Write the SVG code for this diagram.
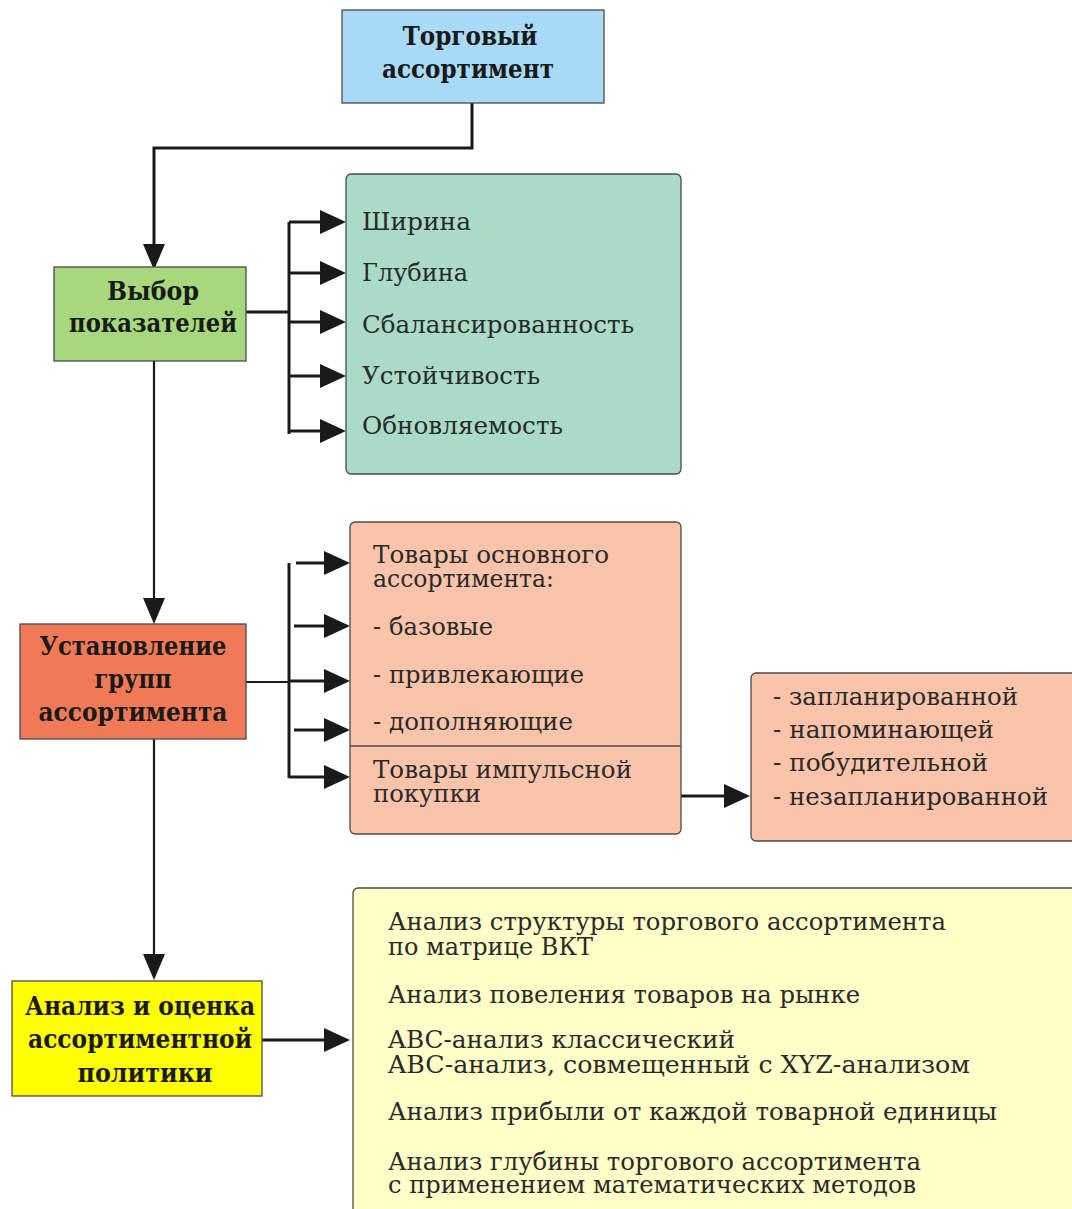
<svg xmlns="http://www.w3.org/2000/svg" width="1072" height="1209" viewBox="0 0 1072 1209">
<defs>
<style>
.box{stroke:#4a4a4a;stroke-width:1.3}
.t{font-family:"DejaVu Serif","Liberation Serif",serif;font-size:25px;fill:#2a2a2a}
.b{font-family:"DejaVu Serif","Liberation Serif",serif;font-size:26px;font-weight:bold;fill:#1a1a1a;text-anchor:middle}
.ln{fill:none;stroke:#1a1a1a;stroke-width:3}
.thin{fill:none;stroke:#1a1a1a;stroke-width:2.2}
.ar{fill:#1a1a1a}
</style>
</defs>
<rect width="1072" height="1209" fill="#ffffff"/>

<g id="connectors">
<polyline class="ln" points="472,103 472,148 154,148 154,250"/>
<path class="ar" d="M143,244 L165,244 L154,270 Z"/>
<line class="thin" x1="154" y1="361" x2="154" y2="600"/>
<path class="ar" d="M143,598 L165,598 L154,624 Z"/>
<line class="thin" x1="154" y1="739" x2="154" y2="956"/>
<path class="ar" d="M143,954 L165,954 L154,980 Z"/>

<polyline class="ln" points="246,312 289,312"/>
<line class="ln" x1="289" y1="222" x2="289" y2="434"/>
<g>
<line class="ln" x1="289" y1="222" x2="325" y2="222"/><path class="ar" d="M320,210 L346,222 L320,234 Z"/>
<line class="ln" x1="289" y1="273" x2="325" y2="273"/><path class="ar" d="M320,261 L346,273 L320,285 Z"/>
<line class="ln" x1="289" y1="322" x2="325" y2="322"/><path class="ar" d="M320,310 L346,322 L320,334 Z"/>
<line class="ln" x1="289" y1="376" x2="325" y2="376"/><path class="ar" d="M320,364 L346,376 L320,388 Z"/>
<line class="ln" x1="289" y1="431" x2="325" y2="431"/><path class="ar" d="M320,419 L346,431 L320,443 Z"/>
</g>

<line class="thin" x1="246" y1="682" x2="289" y2="682"/>
<line class="ln" x1="289" y1="563" x2="289" y2="778"/>
<g>
<line class="ln" x1="296" y1="563" x2="328" y2="563"/><path class="ar" d="M324,551 L350,563 L324,575 Z"/>
<line class="ln" x1="294" y1="626" x2="328" y2="626"/><path class="ar" d="M324,614 L350,626 L324,638 Z"/>
<line class="ln" x1="289" y1="681" x2="328" y2="681"/><path class="ar" d="M324,669 L350,681 L324,693 Z"/>
<line class="ln" x1="294" y1="730" x2="328" y2="730"/><path class="ar" d="M324,718 L350,730 L324,742 Z"/>
<line class="ln" x1="289" y1="777" x2="328" y2="777"/><path class="ar" d="M324,765 L350,777 L324,789 Z"/>
</g>

<line class="ln" x1="681" y1="796" x2="728" y2="796"/>
<path class="ar" d="M724,784 L750,796 L724,808 Z"/>

<line class="ln" x1="262" y1="1040" x2="328" y2="1040"/>
<path class="ar" d="M324,1028 L350,1040 L324,1052 Z"/>
</g>

<g id="n-torg">
<rect class="box" x="342" y="10" width="262" height="93" fill="#a9daf7"/>
<text class="b" x="470" y="45" textLength="135" lengthAdjust="spacingAndGlyphs">Торговый</text>
<text class="b" x="468" y="78" textLength="172" lengthAdjust="spacingAndGlyphs">ассортимент</text>
</g>

<g id="n-vybor">
<rect class="box" x="54" y="267" width="192" height="94" fill="#a7d87b"/>
<text class="b" x="153" y="300" textLength="92" lengthAdjust="spacingAndGlyphs">Выбор</text>
<text class="b" x="153" y="332" textLength="168" lengthAdjust="spacingAndGlyphs">показателей</text>
</g>

<g id="n-pokaz">
<rect class="box" x="346" y="174" width="335" height="300" rx="5" fill="#a9dbc8"/>
<text class="t" x="362" y="230" textLength="109" lengthAdjust="spacingAndGlyphs">Ширина</text>
<text class="t" x="362" y="281" textLength="106" lengthAdjust="spacingAndGlyphs">Глубина</text>
<text class="t" x="362" y="333" textLength="272" lengthAdjust="spacingAndGlyphs">Сбалансированность</text>
<text class="t" x="362" y="384" textLength="178" lengthAdjust="spacingAndGlyphs">Устойчивость</text>
<text class="t" x="362" y="434" textLength="201" lengthAdjust="spacingAndGlyphs">Обновляемость</text>
</g>

<g id="n-ustan">
<rect class="box" x="20" y="624" width="226" height="115" fill="#f07a58"/>
<text class="b" x="133" y="655" textLength="187" lengthAdjust="spacingAndGlyphs">Установление</text>
<text class="b" x="133" y="688" textLength="77" lengthAdjust="spacingAndGlyphs">групп</text>
<text class="b" x="133" y="721" textLength="189" lengthAdjust="spacingAndGlyphs">ассортимента</text>
</g>

<g id="n-groups">
<rect class="box" x="350" y="522" width="331" height="312" rx="5" fill="#f9c4aa"/>
<line stroke="#4a4a4a" stroke-width="1.3" x1="350" y1="746" x2="681" y2="746"/>
<text class="t" x="373" y="563" textLength="236" lengthAdjust="spacingAndGlyphs">Товары основного</text>
<text class="t" x="373" y="587" textLength="181" lengthAdjust="spacingAndGlyphs">ассортимента:</text>
<text class="t" x="373" y="635" textLength="120" lengthAdjust="spacingAndGlyphs">- базовые</text>
<text class="t" x="373" y="683" textLength="211" lengthAdjust="spacingAndGlyphs">- привлекающие</text>
<text class="t" x="373" y="730" textLength="200" lengthAdjust="spacingAndGlyphs">- дополняющие</text>
<text class="t" x="373" y="778" textLength="259" lengthAdjust="spacingAndGlyphs">Товары импульсной</text>
<text class="t" x="373" y="802" textLength="108" lengthAdjust="spacingAndGlyphs">покупки</text>
</g>

<g id="n-impuls">
<rect class="box" x="751" y="673" width="330" height="168" rx="5" fill="#f9c4aa"/>
<text class="t" x="773" y="705" textLength="245" lengthAdjust="spacingAndGlyphs">- запланированной</text>
<text class="t" x="773" y="738" textLength="221" lengthAdjust="spacingAndGlyphs">- напоминающей</text>
<text class="t" x="773" y="771" textLength="215" lengthAdjust="spacingAndGlyphs">- побудительной</text>
<text class="t" x="773" y="805" textLength="275" lengthAdjust="spacingAndGlyphs">- незапланированной</text>
</g>

<g id="n-analiz">
<rect class="box" x="12" y="981" width="250" height="115" fill="#ffff00"/>
<text class="b" x="140" y="1015" textLength="230" lengthAdjust="spacingAndGlyphs">Анализ и оценка</text>
<text class="b" x="140" y="1048" textLength="224" lengthAdjust="spacingAndGlyphs">ассортиментной</text>
<text class="b" x="145" y="1082" textLength="135" lengthAdjust="spacingAndGlyphs">политики</text>
</g>

<g id="n-methods">
<rect class="box" x="353" y="888" width="730" height="330" rx="5" fill="#ffffc8"/>
<text class="t" x="388" y="930" textLength="558" lengthAdjust="spacingAndGlyphs">Анализ структуры торгового ассортимента</text>
<text class="t" x="388" y="955" textLength="205" lengthAdjust="spacingAndGlyphs">по матрице ВКТ</text>
<text class="t" x="388" y="1003" textLength="472" lengthAdjust="spacingAndGlyphs">Анализ повеления товаров на рынке</text>
<text class="t" x="388" y="1048" textLength="347" lengthAdjust="spacingAndGlyphs">ABC-анализ классический</text>
<text class="t" x="388" y="1073" textLength="582" lengthAdjust="spacingAndGlyphs">ABC-анализ, совмещенный с XYZ-анализом</text>
<text class="t" x="388" y="1120" textLength="609" lengthAdjust="spacingAndGlyphs">Анализ прибыли от каждой товарной единицы</text>
<text class="t" x="388" y="1170" textLength="533" lengthAdjust="spacingAndGlyphs">Анализ глубины торгового ассортимента</text>
<text class="t" x="388" y="1193" textLength="528" lengthAdjust="spacingAndGlyphs">с применением математических методов</text>
</g>
</svg>
